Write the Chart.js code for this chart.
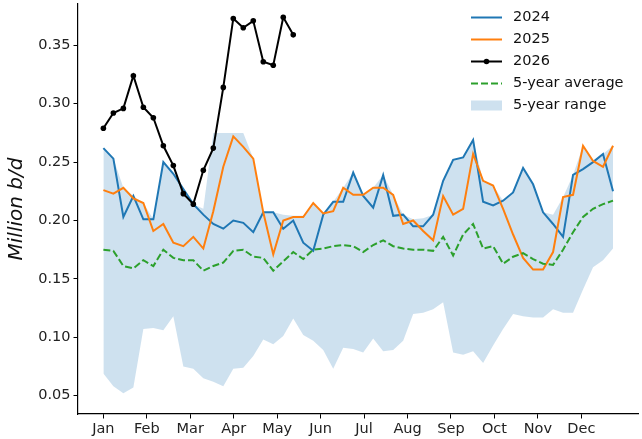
<!DOCTYPE html>
<html>
<head>
<meta charset="utf-8">
<script src="https://cdn.jsdelivr.net/npm/chart.js@4/dist/chart.umd.min.js"></script>
<style>
    html, body { margin: 0; padding: 0; background: #fff; }
    #wrap { width: 642px; height: 439px; }
</style>
</head>
<body>
<div id="wrap"><canvas id="weeklyChart" width="642" height="439"></canvas></div>
<script>
// Weekly values, million b/d (week 0 = first week of January)
const months = ['Jan', 'Feb', 'Mar', 'Apr', 'May', 'Jun', 'Jul', 'Aug', 'Sep', 'Oct', 'Nov', 'Dec'];
const yTicks = [0.05, 0.10, 0.15, 0.20, 0.25, 0.30, 0.35];

const series2024 = [
    0.262, 0.253, 0.203, 0.221, 0.201, 0.201, 0.250, 0.240, 0.227, 0.214,
    0.205, 0.197, 0.193, 0.200, 0.198, 0.190, 0.207, 0.207, 0.193, 0.200,
    0.181, 0.174, 0.205, 0.216, 0.216, 0.241, 0.221, 0.211, 0.239, 0.204,
    0.205, 0.195, 0.195, 0.205, 0.234, 0.252, 0.254, 0.269, 0.216, 0.213,
    0.217, 0.224, 0.245, 0.231, 0.207, 0.197, 0.186, 0.239, 0.244, 0.250,
    0.257, 0.225
];
const series2025 = [
    0.226, 0.223, 0.228, 0.219, 0.215, 0.191, 0.197, 0.181, 0.178, 0.186,
    0.176, 0.208, 0.246, 0.272, 0.263, 0.253, 0.207, 0.171, 0.200, 0.203,
    0.203, 0.215, 0.206, 0.208, 0.228, 0.222, 0.222, 0.228, 0.228, 0.222,
    0.197, 0.200, 0.191, 0.183, 0.221, 0.205, 0.210, 0.257, 0.234, 0.230,
    0.210, 0.188, 0.168, 0.158, 0.158, 0.173, 0.220, 0.222, 0.264, 0.251,
    0.246, 0.264
];
const series2026 = [
    0.279, 0.292, 0.296, 0.324, 0.297, 0.288, 0.264, 0.247, 0.223, 0.214,
    0.243, 0.262, 0.314, 0.373, 0.365, 0.371, 0.336, 0.333, 0.374, 0.359
];
const avg5y = [
    0.175, 0.174, 0.161, 0.159, 0.166, 0.161, 0.175, 0.168, 0.166, 0.166,
    0.157, 0.161, 0.164, 0.174, 0.175, 0.169, 0.168, 0.157, 0.165, 0.173,
    0.167, 0.175, 0.176, 0.178, 0.179, 0.178, 0.173, 0.179, 0.183, 0.178,
    0.176, 0.175, 0.175, 0.174, 0.186, 0.170, 0.188, 0.197, 0.176, 0.178,
    0.163, 0.169, 0.172, 0.167, 0.163, 0.162, 0.175, 0.190, 0.203, 0.210,
    0.214, 0.217
];
const rangeMin = [
    0.069, 0.058, 0.052, 0.057, 0.107, 0.108, 0.106, 0.118, 0.075, 0.073,
    0.065, 0.062, 0.058, 0.073, 0.074, 0.084, 0.098, 0.094, 0.101, 0.116,
    0.102, 0.097, 0.089, 0.073, 0.091, 0.090, 0.087, 0.099, 0.088, 0.089,
    0.097, 0.120, 0.121, 0.124, 0.130, 0.087, 0.085, 0.088, 0.078, 0.093,
    0.107, 0.120, 0.118, 0.117, 0.117, 0.124, 0.121, 0.121, 0.141, 0.160,
    0.166, 0.176
];
const rangeMax = [
    0.262, 0.253, 0.228, 0.221, 0.215, 0.201, 0.250, 0.240, 0.227, 0.214,
    0.210, 0.275, 0.275, 0.275, 0.275, 0.253, 0.207, 0.207, 0.205, 0.204,
    0.204, 0.215, 0.206, 0.216, 0.228, 0.241, 0.222, 0.228, 0.239, 0.222,
    0.205, 0.201, 0.202, 0.205, 0.234, 0.252, 0.254, 0.269, 0.234, 0.230,
    0.217, 0.224, 0.245, 0.231, 0.207, 0.205, 0.220, 0.239, 0.264, 0.251,
    0.257, 0.264
];

const WEEKS_PER_MONTH = 365.25 / 12 / 7;
const FONT = '"DejaVu Sans", Verdana, sans-serif';
const toPoints = arr => arr.map((v, i) => ({ x: i, y: v }));

// Scales should not reserve room for half-labels at the ends
const noEdgePadding = scale => {
    scale.paddingTop = 0;
    scale.paddingBottom = 0;
    scale.paddingLeft = 0;
    scale.paddingRight = 0;
};

// Legend drawn inside the plot area, top right
const legendPlugin = {
    id: 'insideLegend',
    afterDraw(chart) {
        const ctx = chart.ctx;
        const ds = chart.data.datasets;
        const items = [
            { label: '2024', ds: ds[0] },
            { label: '2025', ds: ds[1] },
            { label: '2026', ds: ds[2], marker: true },
            { label: '5-year average', ds: ds[3] },
            { label: '5-year range', ds: ds[5], patch: true }
        ];
        const x0 = 471, x1 = 502, tx = 513;
        let y = 17.5;
        ctx.save();
        ctx.font = '14.5px ' + FONT;
        ctx.textBaseline = 'middle';
        ctx.fillStyle = '#111';
        items.forEach(item => {
            if (item.patch) {
                ctx.fillStyle = item.ds.backgroundColor;
                ctx.fillRect(x0, y - 5, x1 - x0, 10);
            } else {
                ctx.strokeStyle = item.ds.borderColor;
                ctx.lineWidth = item.ds.borderWidth;
                ctx.setLineDash(item.ds.borderDash || []);
                ctx.beginPath();
                ctx.moveTo(x0, y);
                ctx.lineTo(x1, y);
                ctx.stroke();
                ctx.setLineDash([]);
                if (item.marker) {
                    ctx.fillStyle = item.ds.pointBackgroundColor;
                    ctx.beginPath();
                    ctx.arc((x0 + x1) / 2, y, 2.8, 0, Math.PI * 2);
                    ctx.fill();
                }
            }
            ctx.fillStyle = '#111';
            ctx.fillText(item.label, tx, y);
            y += 22;
        });
        ctx.restore();
    }
};

new Chart(document.getElementById('weeklyChart'), {
    type: 'line',
    data: {
        datasets: [
            {
                label: '2024',
                data: toPoints(series2024),
                borderColor: '#1f77b4',
                borderWidth: 2,
                pointRadius: 0,
                order: 3
            },
            {
                label: '2025',
                data: toPoints(series2025),
                borderColor: '#ff7f0e',
                borderWidth: 2,
                pointRadius: 0,
                order: 2
            },
            {
                label: '2026',
                data: toPoints(series2026),
                borderColor: '#000000',
                borderWidth: 2,
                pointRadius: 2.8,
                pointBackgroundColor: '#000000',
                pointBorderWidth: 0,
                order: 0
            },
            {
                label: '5-year average',
                data: toPoints(avg5y),
                borderColor: '#2ca02c',
                borderWidth: 2,
                borderDash: [7, 3],
                pointRadius: 0,
                order: 1
            },
            {
                label: 'range min',
                data: toPoints(rangeMin),
                borderWidth: 0,
                borderColor: 'rgba(0,0,0,0)',
                pointRadius: 0,
                order: 5
            },
            {
                label: '5-year range',
                data: toPoints(rangeMax),
                borderWidth: 0,
                borderColor: 'rgba(0,0,0,0)',
                backgroundColor: 'rgba(31, 119, 180, 0.22)',
                fill: 4,
                pointRadius: 0,
                order: 4
            }
        ]
    },
    options: {
        responsive: false,
        animation: false,
        devicePixelRatio: 1,
        layout: { padding: 0 },
        plugins: {
            legend: { display: false },
            tooltip: { enabled: false }
        },
        elements: {
            line: { tension: 0 }
        },
        scales: {
            x: {
                type: 'linear',
                min: -2.54,
                max: 53.5,
                afterBuildTicks: scale => {
                    scale.ticks = months.map((m, i) => ({ value: i * WEEKS_PER_MONTH }));
                },
                afterFit: scale => {
                    scale.height = 25;
                    noEdgePadding(scale);
                },
                ticks: {
                    autoSkip: false,
                    maxRotation: 0,
                    padding: 2,
                    color: '#222',
                    font: { family: FONT, size: 14.5 },
                    callback: (value, index) => months[index]
                },
                grid: {
                    drawOnChartArea: false,
                    drawTicks: true,
                    tickLength: 4.5,
                    tickColor: '#000'
                },
                border: { display: true, color: '#000', width: 1.2 }
            },
            y: {
                min: 0.0343,
                max: 0.3854,
                afterBuildTicks: scale => {
                    scale.ticks = yTicks.map(v => ({ value: v }));
                },
                afterFit: scale => {
                    scale.width = 78;
                    noEdgePadding(scale);
                },
                ticks: {
                    padding: 3,
                    color: '#222',
                    font: { family: FONT, size: 14.5 },
                    callback: value => value.toFixed(2)
                },
                grid: {
                    drawOnChartArea: false,
                    drawTicks: true,
                    tickLength: 4.5,
                    tickColor: '#000'
                },
                border: { display: true, color: '#000', width: 1.2 },
                title: {
                    display: true,
                    text: 'Million b/d',
                    color: '#111',
                    padding: { top: 5, bottom: 0 },
                    font: { family: FONT, size: 20, style: 'italic' }
                }
            }
        }
    },
    plugins: [legendPlugin]
});
</script>
</body>
</html>
